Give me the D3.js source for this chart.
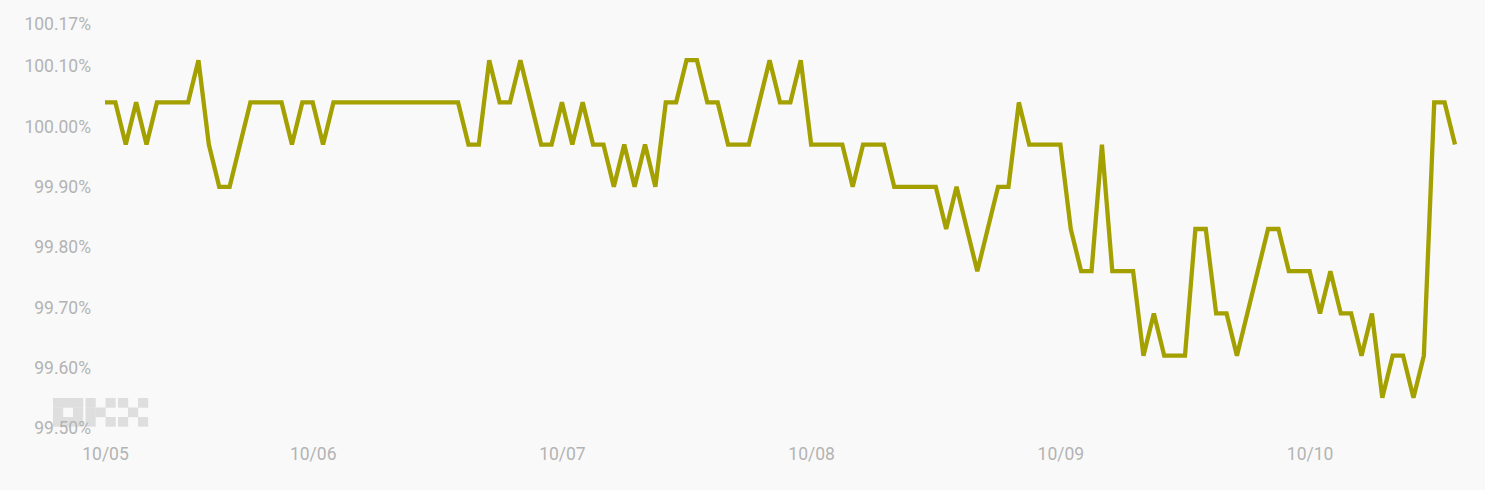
<!DOCTYPE html>
<html>
<head>
    <meta charset="utf-8" />
    <title>Price Ratio Line</title>
    <script src="https://d3js.org/d3.v7.min.js" charset="utf-8"></script>
    <style>
        html, body { margin: 0; padding: 0; background: #f9f9f9; }
    </style>
</head>
<body>
    <script>
        // Hourly readings, first one at 10/05 04:00
        const startTime = "2023-10-05T04:00:00";
        const ratioValues = [
            100.04, 100.04, 99.97, 100.04, 99.97, 100.04, 100.04, 100.04, 100.04, 100.11,
            99.97, 99.90, 99.90, 99.97, 100.04, 100.04, 100.04, 100.04, 99.97, 100.04,
            100.04, 99.97, 100.04, 100.04, 100.04, 100.04, 100.04, 100.04, 100.04, 100.04,
            100.04, 100.04, 100.04, 100.04, 100.04, 99.97, 99.97, 100.11, 100.04, 100.04,
            100.11, 100.04, 99.97, 99.97, 100.04, 99.97, 100.04, 99.97, 99.97, 99.90,
            99.97, 99.90, 99.97, 99.90, 100.04, 100.04, 100.11, 100.11, 100.04, 100.04,
            99.97, 99.97, 99.97, 100.04, 100.11, 100.04, 100.04, 100.11, 99.97, 99.97,
            99.97, 99.97, 99.90, 99.97, 99.97, 99.97, 99.90, 99.90, 99.90, 99.90,
            99.90, 99.83, 99.90, 99.83, 99.76, 99.83, 99.90, 99.90, 100.04, 99.97,
            99.97, 99.97, 99.97, 99.83, 99.76, 99.76, 99.97, 99.76, 99.76, 99.76,
            99.62, 99.69, 99.62, 99.62, 99.62, 99.83, 99.83, 99.69, 99.69, 99.62,
            99.69, 99.76, 99.83, 99.83, 99.76, 99.76, 99.76, 99.69, 99.76, 99.69,
            99.69, 99.62, 99.69, 99.55, 99.62, 99.62, 99.55, 99.62, 100.04, 100.04,
            99.97
        ];
        const yTickValues = [99.5, 99.6, 99.7, 99.8, 99.9, 100.0, 100.1, 100.17];
        const xTickDates = ["2023-10-05T04:00:00", "2023-10-06T00:00:00", "2023-10-07T00:00:00",
                            "2023-10-08T00:00:00", "2023-10-09T00:00:00", "2023-10-10T00:00:00"];

        const width = 1485;
        const height = 490;

        const parseTime = d3.timeParse("%Y-%m-%dT%H:%M:%S");
        const t0 = parseTime(startTime);
        const data = ratioValues.map((v, i) => ({ time: d3.timeHour.offset(t0, i), value: v }));

        const x = d3.scaleTime()
            .domain(d3.extent(data, d => d.time))
            .range([105, 1455]);

        const y = d3.scaleLinear()
            .domain([99.5, 100.17])
            .range([428, 24]);

        const svg = d3.select("body")
            .append("svg")
            .attr("width", width)
            .attr("height", height)
            .attr("viewBox", [0, 0, width, height])
            .style("display", "block")
            .style("font-family", "Roboto, 'Noto Sans', sans-serif");

        svg.append("rect")
            .attr("width", width)
            .attr("height", height)
            .attr("fill", "#f9f9f9");

        // OKX watermark, 3x3 block letters
        const logoCells = [
            [1,1,1, 1,0,1, 1,1,1],   // O
            [1,0,1, 1,1,0, 1,0,1],   // K
            [1,0,1, 0,1,0, 1,0,1]    // X
        ];
        const logo = svg.append("g").attr("fill", "#dedede");
        logoCells.forEach((cells, li) => {
            cells.forEach((on, ci) => {
                if (!on) return;
                logo.append("rect")
                    .attr("x", 53 + li * 32.5 + (ci % 3) * 10)
                    .attr("y", 398 + Math.floor(ci / 3) * 9.5)
                    .attr("width", 10.2)
                    .attr("height", 9.7);
            });
        });

        // y-axis labels
        const yAxis = svg.append("g")
            .attr("transform", "translate(91,0)")
            .call(d3.axisLeft(y).tickValues(yTickValues).tickSize(0).tickPadding(0)
                .tickFormat(d => d.toFixed(2) + "%"));
        yAxis.select(".domain").remove();
        yAxis.selectAll("text")
            .attr("fill", "#b3b3b3")
            .attr("font-size", "17.5px")
            .attr("font-family", "Roboto, 'Noto Sans', sans-serif");

        // x-axis labels
        const xAxis = svg.append("g")
            .attr("transform", "translate(0,448)")
            .call(d3.axisBottom(x).tickValues(xTickDates.map(parseTime)).tickSize(0).tickPadding(0)
                .tickFormat(d3.timeFormat("%m/%d")));
        xAxis.select(".domain").remove();
        xAxis.selectAll("text")
            .attr("fill", "#b3b3b3")
            .attr("font-size", "17.5px")
            .attr("font-family", "Roboto, 'Noto Sans', sans-serif");

        // the line
        const line = d3.line()
            .x(d => x(d.time))
            .y(d => y(d.value));

        svg.append("path")
            .datum(data)
            .attr("fill", "none")
            .attr("stroke", "#a3a000")
            .attr("stroke-width", 4.3)
            .attr("stroke-linejoin", "miter")
            .attr("d", line);
    </script>
</body>
</html>
